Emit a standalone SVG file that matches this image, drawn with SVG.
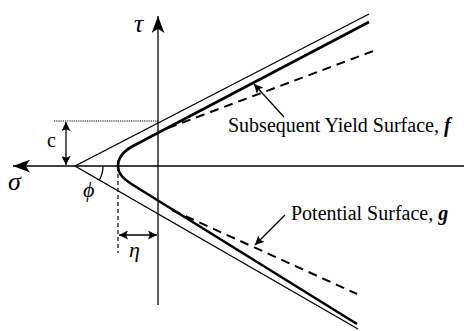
<svg xmlns="http://www.w3.org/2000/svg" width="464" height="331" viewBox="0 0 464 331">
<defs>
<style>
.ln{fill:none;stroke:#000;stroke-linecap:butt}
.thin{stroke-width:1.3}
.thick{stroke-width:2.6;stroke-linejoin:round}
.dash{stroke-width:2;stroke-dasharray:9 6}
.lbl{font-family:"Liberation Serif","Times New Roman",serif;fill:#000}
.it{font-style:italic}
</style>
<marker id="ah" viewBox="0 0 10 10" refX="10" refY="5" markerWidth="9" markerHeight="9" markerUnits="userSpaceOnUse" orient="auto-start-reverse">
<path d="M0,0 L10,5 L0,10 L2,5 Z" fill="#000"/>
</marker>
<marker id="big" viewBox="0 0 16 12" refX="16" refY="6" markerWidth="17" markerHeight="13" markerUnits="userSpaceOnUse" orient="auto">
<path d="M0,0 L16,6 L0,12 L4,6 Z" fill="#000"/>
</marker>
</defs>
<rect width="464" height="331" fill="#fff"/>
<g id="axes">
<line class="ln thin" x1="158" y1="305" x2="158" y2="16" marker-end="url(#big)"/>
<line class="ln thin" x1="464" y1="166" x2="13" y2="166" stroke-width="1.6" marker-end="url(#big)"/>
</g>
<g id="mohr-coulomb">
<polyline class="ln thin" points="369,14 75,166 358,329"/>
</g>
<g id="yield-surface">
<path class="ln thick" d="M369,22 L133,146 C122,152 118,158 118,166 C118,173 122,178 133,185 L357,324"/>
</g>
<g id="potential-surface">
<line class="ln dash" x1="168" y1="128" x2="376" y2="50"/>
<line class="ln dash" x1="172" y1="210" x2="357" y2="294"/>
</g>
<g id="connectors">
<line class="ln" stroke-width="1" stroke-dasharray="1.2 1" x1="54" y1="121" x2="158" y2="121"/>
<line class="ln" stroke-width="1.3" x1="66" y1="122" x2="66" y2="165" marker-start="url(#ah)" marker-end="url(#ah)"/>
<path class="ln" stroke-width="1.3" d="M103,166 A28,28 0 0 1 99.3,180"/>
<line class="ln" stroke-width="1.2" stroke-dasharray="4 3" x1="118" y1="160" x2="118" y2="253"/>
<line class="ln" stroke-width="1.3" x1="119" y1="235" x2="157" y2="235" marker-start="url(#ah)" marker-end="url(#ah)"/>
<line class="ln" stroke-width="1.3" x1="284" y1="117" x2="254" y2="84" marker-end="url(#ah)"/>
<line class="ln" stroke-width="1.3" x1="285" y1="215" x2="255" y2="245" marker-end="url(#ah)"/>
</g>
<g id="labels">
<text class="lbl it" x="134" y="32" font-size="26">τ</text>
<text class="lbl it" x="8" y="190" font-size="26">σ</text>
<text class="lbl" x="47" y="147" font-size="20">c</text>
<text class="lbl it" x="83" y="197" font-size="22">ϕ</text>
<text class="lbl it" x="129" y="257" font-size="22">η</text>
<text class="lbl" x="228" y="132" font-size="20">Subsequent Yield Surface, <tspan font-weight="bold" font-style="italic">f</tspan></text>
<text class="lbl" x="291" y="220" font-size="20">Potential Surface, <tspan font-weight="bold" font-style="italic">g</tspan></text>
</g>
</svg>
